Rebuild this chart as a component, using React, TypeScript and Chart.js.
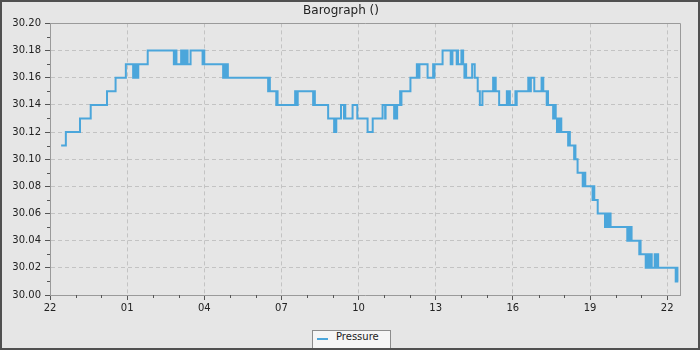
import React, { useEffect, useRef } from 'react';
import { Chart, registerables } from 'chart.js';

Chart.register(...registerables);

const TITLE = 'Barograph ()';
const SERIES_NAME = 'Pressure';
// x axis: minutes elapsed since 22:00 of the first day
const X_MIN = 0;
const X_MAX = 1470;
const X_TICK_LABELS = ['22', '01', '04', '07', '10', '13', '16', '19', '22'];
const Y_MIN = 30.0;
const Y_MAX = 30.2;

// sample times (minutes since 22:00)
const minutes = [
  26, 37, 70, 95, 133, 153, 177, 194, 196, 198,
  200, 201, 203, 204, 206, 228, 289, 291, 293, 294,
  295, 306, 310, 313, 315, 317, 321, 328, 356, 358,
  360, 404, 406, 408, 409, 411, 413, 415, 509, 511,
  513, 528, 530, 531, 572, 573, 575, 576, 578, 614,
  616, 618, 649, 663, 665, 666, 668, 679, 686, 687,
  689, 706, 717, 741, 753, 776, 782, 783, 803, 804,
  806, 810, 817, 819, 820, 841, 856, 858, 859, 861,
  862, 881, 894, 896, 897, 916, 935, 939, 949, 950,
  952, 960, 964, 967, 969, 971, 985, 991, 998, 1003,
  1009, 1034, 1036, 1037, 1040, 1048, 1066, 1068, 1071, 1073,
  1086, 1088, 1089, 1116, 1117, 1119, 1121, 1122, 1130, 1147,
  1151, 1159, 1160, 1162, 1174, 1176, 1177, 1179, 1180, 1183,
  1185, 1187, 1188, 1190, 1191, 1193, 1209, 1211, 1213, 1223,
  1225, 1226, 1231, 1243, 1244, 1246, 1247, 1249, 1266, 1267,
  1270, 1278, 1295, 1296, 1298, 1300, 1301, 1303, 1305, 1306,
  1308, 1347, 1348, 1350, 1352, 1353, 1355, 1357, 1375, 1376,
  1378, 1390, 1392, 1393, 1395, 1397, 1398, 1401, 1403, 1404,
  1411, 1414, 1416, 1419, 1460, 1463, 1464, 1466,
];

// pressure readings (inHg)
const pressure = [
  30.11, 30.12, 30.13, 30.14, 30.15, 30.16, 30.17, 30.16, 30.17, 30.16,
  30.17, 30.16, 30.17, 30.16, 30.17, 30.18, 30.17, 30.18, 30.17, 30.18,
  30.17, 30.18, 30.17, 30.18, 30.17, 30.18, 30.17, 30.18, 30.17, 30.18,
  30.17, 30.16, 30.17, 30.16, 30.17, 30.16, 30.17, 30.16, 30.15, 30.16,
  30.15, 30.14, 30.15, 30.14, 30.15, 30.14, 30.15, 30.14, 30.15, 30.14,
  30.15, 30.14, 30.13, 30.12, 30.13, 30.12, 30.13, 30.14, 30.13, 30.14,
  30.13, 30.14, 30.13, 30.12, 30.13, 30.14, 30.13, 30.14, 30.13, 30.14,
  30.13, 30.14, 30.15, 30.14, 30.15, 30.16, 30.17, 30.16, 30.17, 30.16,
  30.17, 30.16, 30.17, 30.16, 30.17, 30.18, 30.17, 30.18, 30.17, 30.18,
  30.17, 30.18, 30.17, 30.16, 30.17, 30.16, 30.17, 30.16, 30.15, 30.14,
  30.15, 30.16, 30.15, 30.16, 30.15, 30.14, 30.15, 30.14, 30.15, 30.14,
  30.15, 30.14, 30.15, 30.16, 30.15, 30.16, 30.15, 30.16, 30.15, 30.16,
  30.15, 30.14, 30.15, 30.14, 30.13, 30.14, 30.13, 30.14, 30.13, 30.12,
  30.13, 30.12, 30.13, 30.12, 30.13, 30.12, 30.11, 30.12, 30.11, 30.10,
  30.11, 30.10, 30.09, 30.08, 30.09, 30.08, 30.09, 30.08, 30.07, 30.08,
  30.07, 30.06, 30.05, 30.06, 30.05, 30.06, 30.05, 30.06, 30.05, 30.06,
  30.05, 30.04, 30.05, 30.04, 30.05, 30.04, 30.05, 30.04, 30.03, 30.04,
  30.03, 30.02, 30.03, 30.02, 30.03, 30.02, 30.03, 30.02, 30.03, 30.02,
  30.03, 30.02, 30.03, 30.02, 30.01, 30.02, 30.01, 30.01,
];

const FONT = '"DejaVu Sans", "Liberation Sans", sans-serif';
const LINE_COLOR = '#4ba6db';
const BG = '#e6e6e6';

export default function App() {
  const ref = useRef<HTMLCanvasElement>(null);

  useEffect(() => {
    document.body.style.margin = '0';
    const canvas = ref.current;
    if (!canvas) return;
    const points = minutes.map((m, i) => ({ x: m, y: pressure[i] }));

    const framePlugin = {
      id: 'frameAndMinorTicks',
      afterDraw(chart: any) {
        const { ctx, chartArea: a, scales } = chart;
        ctx.save();
        ctx.lineWidth = 1;
        ctx.strokeStyle = '#9a9a9a';
        ctx.beginPath();
        ctx.moveTo(a.left, Math.round(a.top) + 0.5);
        ctx.lineTo(Math.round(a.right) + 0.5, Math.round(a.top) + 0.5);
        ctx.lineTo(Math.round(a.right) + 0.5, a.bottom);
        ctx.stroke();
        ctx.strokeStyle = '#555';
        ctx.beginPath();
        scales.y.ticks.forEach((t: any, i: number) => {
          if (i % 2 === 1) {
            const py = Math.round(scales.y.getPixelForValue(t.value)) + 0.5;
            ctx.moveTo(a.left - 3, py);
            ctx.lineTo(a.left, py);
          }
        });
        scales.x.ticks.forEach((t: any, i: number) => {
          if (i % 3 !== 0) {
            const px = Math.round(scales.x.getPixelForValue(t.value)) + 0.5;
            ctx.moveTo(px, a.bottom);
            ctx.lineTo(px, a.bottom + 3);
          }
        });
        ctx.stroke();
        ctx.restore();
      },
    };

    const chart = new Chart(canvas, {
      type: 'line',
      data: {
        datasets: [
          {
            label: SERIES_NAME,
            data: points,
            borderColor: LINE_COLOR,
            backgroundColor: LINE_COLOR,
            borderWidth: 2,
            pointRadius: 0,
            stepped: true,
            fill: false,
          },
        ],
      },
      options: {
        animation: false,
        responsive: false,
        devicePixelRatio: 1,
        layout: { padding: { left: 0, right: 18, top: 0, bottom: 0 } },
        plugins: {
          legend: { display: false },
          tooltip: { enabled: false },
          title: {
            display: true,
            text: TITLE,
            color: '#222',
            font: { family: FONT, size: 12, weight: 'normal' },
            padding: { top: 2, bottom: 5 },
          },
        },
        scales: {
          x: {
            type: 'linear',
            min: X_MIN,
            max: X_MAX,
            afterFit: (s: any) => {
              s.height = 53;
            },
            border: { display: true, color: '#9a9a9a', width: 1, dash: [4, 3] },
            grid: {
              color: (c: any) => (c.index % 3 === 0 ? '#c3c3c3' : 'rgba(0,0,0,0)'),
              tickColor: (c: any) => (c.index % 3 === 0 ? '#555' : 'rgba(0,0,0,0)'),
              tickLength: 5,
              lineWidth: 1,
            },
            ticks: {
              stepSize: 60,
              includeBounds: false,
              autoSkip: false,
              maxRotation: 0,
              minRotation: 0,
              padding: 2,
              color: '#222',
              font: { family: FONT, size: 10 },
              callback: (v: any) => {
                const n = Number(v);
                return n % 180 === 0 ? X_TICK_LABELS[n / 180] : '';
              },
            },
          },
          y: {
            type: 'linear',
            min: Y_MIN,
            max: Y_MAX,
            afterFit: (s: any) => {
              s.width = 48;
            },
            border: { display: true, color: '#9a9a9a', width: 1, dash: [4, 3] },
            grid: {
              color: (c: any) => (c.index % 2 === 0 ? '#c3c3c3' : 'rgba(0,0,0,0)'),
              tickColor: (c: any) => (c.index % 2 === 0 ? '#555' : 'rgba(0,0,0,0)'),
              tickLength: 5,
              lineWidth: 1,
            },
            ticks: {
              stepSize: 0.01,
              autoSkip: false,
              padding: 4,
              color: '#222',
              font: { family: FONT, size: 10 },
              callback: (v: any, i: number) => (i % 2 === 0 ? Number(v).toFixed(2) : ''),
            },
          },
        },
      },
      plugins: [framePlugin],
    } as any);

    return () => chart.destroy();
  }, []);

  return (
    <div
      style={{
        position: 'relative',
        width: 700,
        height: 350,
        boxSizing: 'border-box',
        border: '2px solid #505050',
        background: BG,
        overflow: 'hidden',
        fontFamily: FONT,
      }}
    >
      <canvas ref={ref} width={696} height={346} style={{ display: 'block' }} />
      <div
        style={{
          position: 'absolute',
          left: 310,
          top: 328,
          width: 79,
          height: 19,
          boxSizing: 'border-box',
          background: '#f5f5f5',
          border: '1px solid #8c8c8c',
        }}
      >
        <span
          style={{
            position: 'absolute',
            left: 4,
            top: 7,
            width: 11,
            height: 2,
            background: LINE_COLOR,
          }}
        />
        <span
          style={{
            position: 'absolute',
            left: 23,
            top: 0,
            fontSize: 10,
            lineHeight: '12px',
            color: '#222',
            whiteSpace: 'nowrap',
          }}
        >
          {SERIES_NAME}
        </span>
      </div>
    </div>
  );
}
